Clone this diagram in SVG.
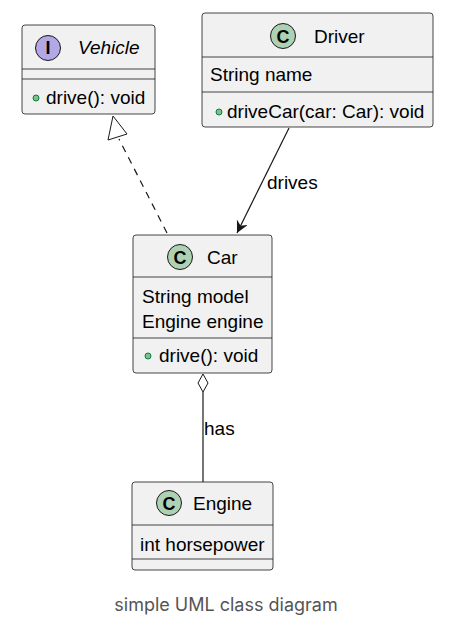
<svg xmlns="http://www.w3.org/2000/svg" width="451" height="621" viewBox="0 0 451 621">
<style>
.box{fill:#F1F1F1;stroke:#181818;stroke-width:0.8}
.sep{stroke:#181818;stroke-width:0.8}
.t{font-family:"Liberation Sans",Arial,sans-serif;font-size:19px;fill:#000}
.ic{fill:#ADD1B2;stroke:#181818;stroke-width:1}
.ii{fill:#B4A7E5;stroke:#181818;stroke-width:1}
.il{font-family:"Liberation Sans",Arial,sans-serif;font-size:18px;font-weight:bold;fill:#000;text-anchor:middle}
.dot{fill:#84BE84;stroke:#038048;stroke-width:1}
.ln{fill:none;stroke:#181818;stroke-width:1.2}
</style>
<defs>
<marker id="vee" markerWidth="14" markerHeight="14" refX="12" refY="6" orient="auto" markerUnits="userSpaceOnUse">
<path d="M0,0 L12,6 L0,12 L4,6 Z" fill="#181818"/>
</marker>
</defs>
<rect width="451" height="621" fill="#fff"/>
<g id="Vehicle">
<rect class="box" x="22" y="25" width="133" height="89" rx="3"/>
<line class="sep" x1="22" y1="69" x2="155" y2="69"/>
<line class="sep" x1="22" y1="79" x2="155" y2="79"/>
<circle class="ii" cx="48" cy="48" r="12.5"/>
<text class="il" x="48" y="54" font-family="Liberation Mono">I</text>
<text class="t" x="78" y="54" font-style="italic">Vehicle</text>
<circle class="dot" cx="36" cy="98" r="3"/>
<text class="t" x="46" y="104">drive(): void</text>
</g>
<g id="Driver">
<rect class="box" x="202" y="13" width="231" height="114" rx="3"/>
<line class="sep" x1="202" y1="57" x2="433" y2="57"/>
<line class="sep" x1="202" y1="92" x2="433" y2="92"/>
<circle class="ic" cx="283" cy="36" r="12.5"/>
<text class="il" x="283" y="42.5">C</text>
<text class="t" x="314" y="43">Driver</text>
<text class="t" x="210" y="81">String name</text>
<circle class="dot" cx="219" cy="112" r="3"/>
<text class="t" x="227" y="118">driveCar(car: Car): void</text>
</g>
<g id="Car">
<rect class="box" x="133" y="235" width="139" height="138" rx="3"/>
<line class="sep" x1="133" y1="277" x2="272" y2="277"/>
<line class="sep" x1="133" y1="338" x2="272" y2="338"/>
<circle class="ic" cx="180" cy="257" r="12.5"/>
<text class="il" x="180" y="263.5">C</text>
<text class="t" x="207" y="264">Car</text>
<text class="t" x="142" y="303">String model</text>
<text class="t" x="142" y="328">Engine engine</text>
<circle class="dot" cx="148" cy="356" r="3"/>
<text class="t" x="159" y="362">drive(): void</text>
</g>
<g id="Engine">
<rect class="box" x="132" y="482" width="141" height="88" rx="3"/>
<line class="sep" x1="132" y1="525" x2="273" y2="525"/>
<line class="sep" x1="132" y1="559" x2="273" y2="559"/>
<circle class="ic" cx="169" cy="503" r="12.5"/>
<text class="il" x="169" y="509.5">C</text>
<text class="t" x="193" y="510">Engine</text>
<text class="t" x="140" y="551">int horsepower</text>
</g>
<g id="connectors">
<path class="ln" d="M167,233 L119,139" stroke-dasharray="7,6"/>
<path d="M113,116 L108,140 L127,134 Z" fill="#fff" stroke="#181818" stroke-width="1"/>
<path class="ln" d="M289,128 L237,233" marker-end="url(#vee)"/>
<text class="t" x="267" y="189">drives</text>
<path d="M203,374 L208,383 L203,392 L198,383 Z" fill="#fff" stroke="#181818" stroke-width="1"/>
<path class="ln" d="M203,392 L203,482"/>
<text class="t" x="204" y="435">has</text>
</g>
<text x="226" y="611" text-anchor="middle" font-family="Inter,'Liberation Sans',sans-serif" font-size="18" fill="#555">simple UML class diagram</text>
</svg>
